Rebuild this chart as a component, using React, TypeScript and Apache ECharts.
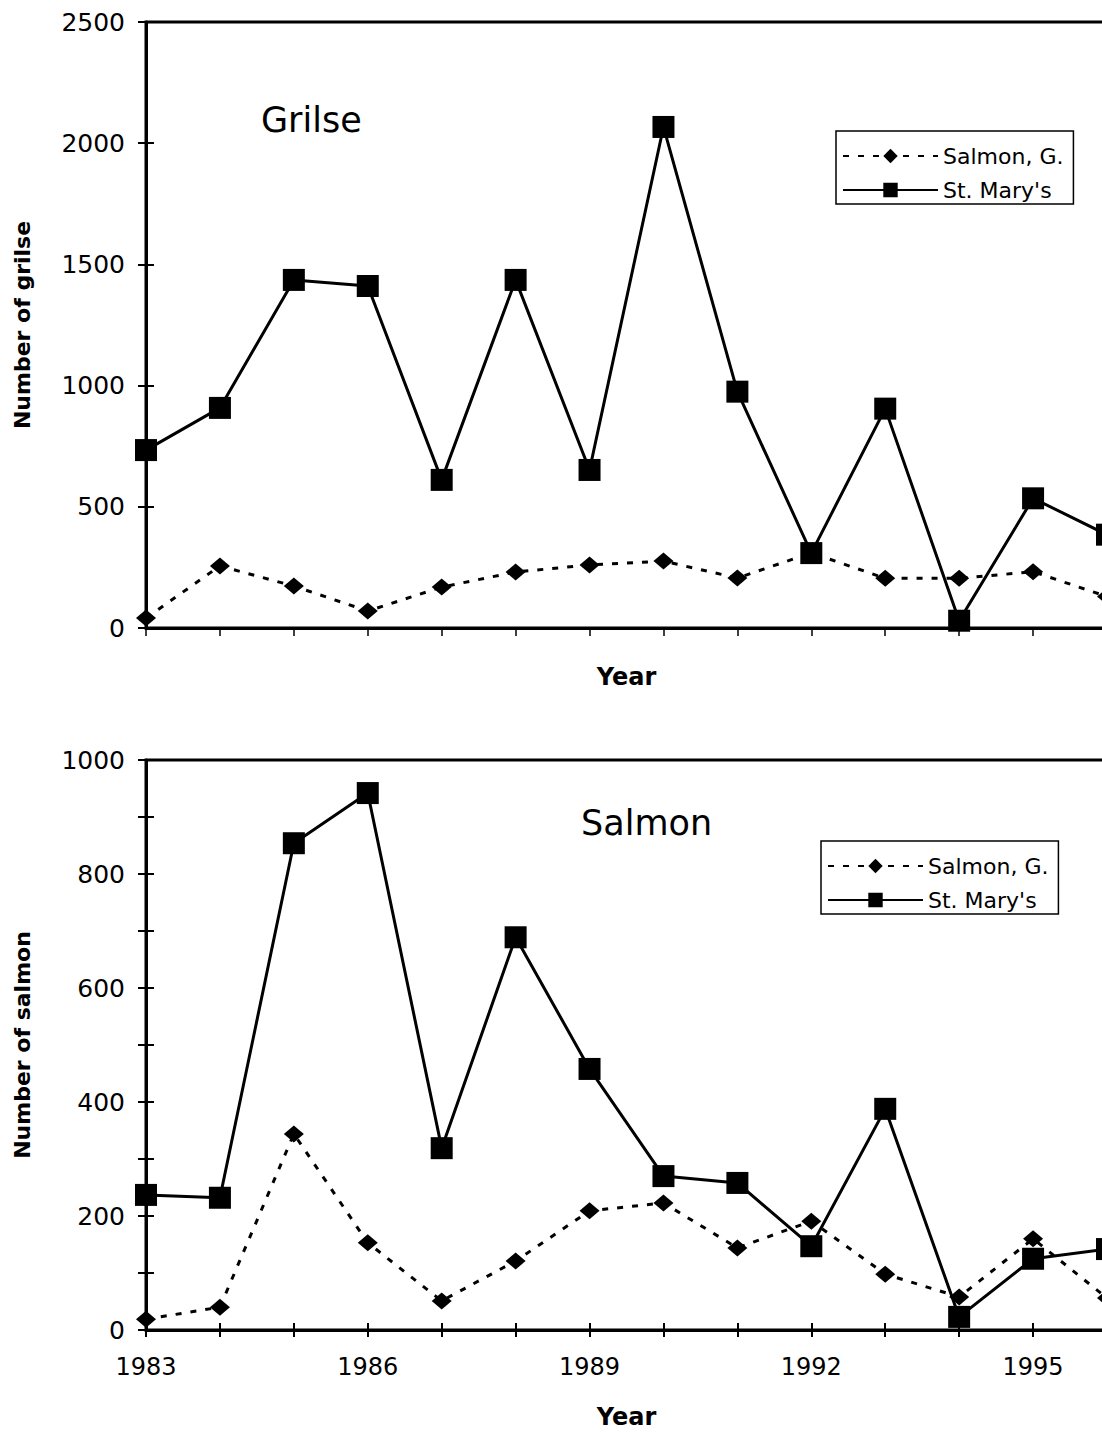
import React, { useEffect, useRef } from "react";
import * as echarts from "echarts";

const years = [1983, 1984, 1985, 1986, 1987, 1988, 1989, 1990, 1991, 1992, 1993, 1994, 1995, 1996];
const grilseSalmonG = [41, 256, 173, 70, 169, 231, 260, 276, 206, 310, 205, 205, 232, 130];
const grilseStMarys = [734, 908, 1436, 1411, 611, 1436, 652, 2067, 975, 309, 905, 30, 535, 385];
const salmonSalmonG = [19, 40, 344, 153, 51, 121, 209, 223, 144, 191, 98, 58, 160, 56];
const salmonStMarys = [237, 232, 854, 942, 319, 689, 458, 270, 258, 147, 388, 23, 125, 142];
const seriesNames = ["Salmon, G.", "St. Mary's"];
const panelTitles = ["Grilse", "Salmon"];
const yNames = ["Number of grilse", "Number of salmon"];

const FONT = "DejaVu Sans";

const pairs = (vals: number[]) => years.map((y, i) => [y, vals[i]]);

const dashedSeries = (name: string, data: number[], xi: number, yi: number) => ({
  name,
  type: "line",
  xAxisIndex: xi,
  yAxisIndex: yi,
  data: pairs(data),
  symbol: "diamond",
  symbolSize: [20, 17],
  itemStyle: { color: "#000" },
  lineStyle: { color: "#000", width: 3, type: [6, 9] },
});

const solidSeries = (name: string, data: number[], xi: number, yi: number) => ({
  name,
  type: "line",
  xAxisIndex: xi,
  yAxisIndex: yi,
  data: pairs(data),
  symbol: "rect",
  symbolSize: 22,
  itemStyle: { color: "#000" },
  lineStyle: { color: "#000", width: 3, type: "solid" },
});

const legendFor = (left: number, top: number) => ({
  orient: "vertical",
  left,
  top,
  data: seriesNames,
  selectedMode: false,
  itemWidth: 95,
  itemHeight: 18,
  itemGap: 12,
  padding: [14, 10, 3, 6],
  borderColor: "#000",
  borderWidth: 1.5,
  backgroundColor: "#fff",
  textStyle: { fontFamily: FONT, fontSize: 22, color: "#000", lineHeight: 20 },
});

const axisLineStyle = { color: "#000", width: 3 };
const plain = (v: number) => String(v);

export default function App() {
  const ref = useRef<HTMLDivElement>(null);
  useEffect(() => {
    if (!ref.current) return;
    const chart = echarts.init(ref.current, null, { renderer: "svg" });
    const yearFormatter = (v: number) => ((v - 1983) % 3 === 0 ? String(v) : "");
    const option = {
      animation: false,
      backgroundColor: "#fff",
      textStyle: { fontFamily: FONT, color: "#000" },
      title: [
        { text: panelTitles[0], left: 256, top: 97, textStyle: { fontFamily: FONT, fontSize: 35, fontWeight: "normal", color: "#000" } },
        { text: panelTitles[1], left: 576, top: 800, textStyle: { fontFamily: FONT, fontSize: 35, fontWeight: "normal", color: "#000" } },
      ],
      legend: [legendFor(836, 131), legendFor(821, 841)],
      grid: [
        { left: 146, top: 22, width: 961, height: 606, show: true, borderColor: "#000", borderWidth: 3, outerBoundsMode: "none", containLabel: false },
        { left: 146, top: 760, width: 961, height: 570, show: true, borderColor: "#000", borderWidth: 3, outerBoundsMode: "none", containLabel: false },
      ],
      xAxis: [
        {
          gridIndex: 0, type: "value", position: "bottom", min: 1983, max: 1996, interval: 1,
          axisLine: { lineStyle: axisLineStyle },
          axisTick: { length: 8, lineStyle: { color: "#000", width: 1.5 } },
          axisLabel: { show: false },
          splitLine: { show: false },
          name: "Year", nameLocation: "middle", nameGap: 37,
          nameTextStyle: { fontFamily: FONT, fontSize: 24, fontWeight: "bold", color: "#000" },
        },
        {
          gridIndex: 1, type: "value", position: "bottom", min: 1983, max: 1996, interval: 1,
          axisLine: { lineStyle: axisLineStyle },
          axisTick: { length: 7, lineStyle: { color: "#000", width: 2 } },
          axisLabel: { margin: 25, fontFamily: FONT, fontSize: 24, color: "#000", formatter: yearFormatter },
          splitLine: { show: false },
          name: "Year", nameLocation: "middle", nameGap: 75,
          nameTextStyle: { fontFamily: FONT, fontSize: 24, fontWeight: "bold", color: "#000" },
        },
        {
          gridIndex: 1, type: "value", position: "bottom", min: 1983, max: 1996, interval: 1,
          axisLine: { show: false },
          axisTick: { inside: true, length: 7, lineStyle: { color: "#000", width: 2 } },
          axisLabel: { show: false },
          splitLine: { show: false },
        },
      ],
      yAxis: [
        {
          gridIndex: 0, type: "value", position: "left", min: 0, max: 2500, interval: 500,
          axisLine: { show: true, lineStyle: axisLineStyle },
          axisTick: { show: true, length: 8, lineStyle: { color: "#000", width: 2 } },
          axisLabel: { margin: 21, fontFamily: FONT, fontSize: 25, color: "#000", formatter: plain },
          splitLine: { show: false },
          name: yNames[0], nameLocation: "middle", nameGap: 113, nameRotate: 90,
          nameTextStyle: { fontFamily: FONT, fontSize: 22, fontWeight: "bold", color: "#000" },
        },
        {
          gridIndex: 0, type: "value", position: "left", min: 0, max: 2500, interval: 500,
          axisLine: { show: false },
          axisTick: { show: true, inside: true, length: 8, lineStyle: { color: "#000", width: 2 } },
          axisLabel: { show: false },
          splitLine: { show: false },
        },
        {
          gridIndex: 1, type: "value", position: "left", min: 0, max: 1000, interval: 100,
          axisLine: { show: true, lineStyle: axisLineStyle },
          axisTick: { show: true, length: 8, lineStyle: { color: "#000", width: 2 } },
          axisLabel: {
            margin: 21, fontFamily: FONT, fontSize: 25, color: "#000",
            formatter: (v: number) => (v % 200 === 0 ? String(v) : ""),
          },
          splitLine: { show: false },
          name: yNames[1], nameLocation: "middle", nameGap: 113, nameRotate: 90,
          nameTextStyle: { fontFamily: FONT, fontSize: 22, fontWeight: "bold", color: "#000" },
        },
        {
          gridIndex: 1, type: "value", position: "left", min: 0, max: 1000, interval: 100,
          axisLine: { show: false },
          axisTick: { show: true, inside: true, length: 8, lineStyle: { color: "#000", width: 2 } },
          axisLabel: { show: false },
          splitLine: { show: false },
        },
      ],
      series: [
        dashedSeries(seriesNames[0], grilseSalmonG, 0, 0),
        solidSeries(seriesNames[1], grilseStMarys, 0, 0),
        dashedSeries(seriesNames[0], salmonSalmonG, 1, 2),
        solidSeries(seriesNames[1], salmonStMarys, 1, 2),
      ],
    };
    chart.setOption(option as any);
    return () => chart.dispose();
  }, []);
  return (
    <div
      ref={ref}
      style={{ position: "absolute", left: 0, top: 0, width: 1102, height: 1434, overflow: "hidden", background: "#fff" }}
    />
  );
}
